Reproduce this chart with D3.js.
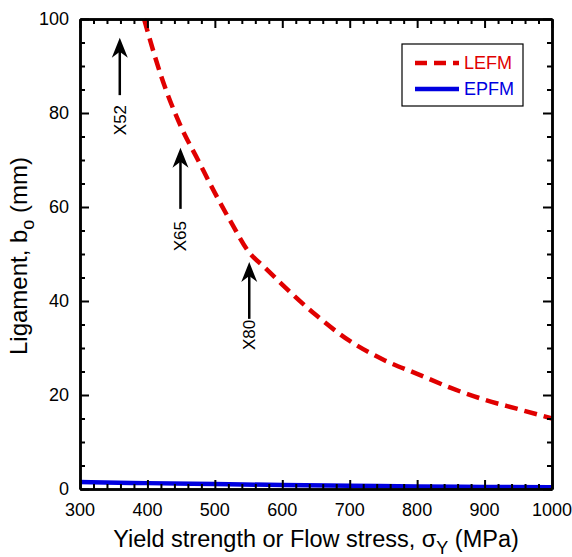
<!DOCTYPE html>
<meta charset="utf-8">
<script src="https://d3js.org/d3.v7.min.js"></script>
<style>
  body { margin: 0; background: #fff; }
  text { font-family: Arial, "Liberation Sans", sans-serif; }
</style>
<div id="my_dataviz"></div>
<script>

// data
var lefmX = [395, 420, 450, 475, 500, 525, 550, 575, 600, 650, 700, 750, 800, 850, 900, 950, 1000];
var lefmY = [100, 88, 77, 70, 63, 56.5, 50.5, 47, 43.5, 37, 31.5, 27.5, 24.5, 21.5, 19, 17, 15];
var epfmX = [300, 400, 500, 600, 700, 800, 900, 1000];
var epfmY = [1.5, 1.25, 1.05, 0.85, 0.7, 0.55, 0.45, 0.35];

var gradeNames = ["X52", "X65", "X80"];
var gradeX = [359, 449, 551];
var gradeTip = [96, 72.6, 48.3];
var gradeBase = [83.8, 59.6, 36.2];
var gradeLabelY = [78.5, 53.8, 32.8];

var xTicks = [300, 400, 500, 600, 700, 800, 900, 1000];
var yTicks = [0, 20, 40, 60, 80, 100];

var margin = {top: 19, right: 20, bottom: 68, left: 80},
  width = 552 - margin.left,
  height = 489 - margin.top;

var svg = d3.select("#my_dataviz")
.append("svg")
  .attr("width", 572)
  .attr("height", 557)
.append("g")
  .attr("transform", "translate(" + margin.left + "," + margin.top + ")");

var x = d3.scaleLinear().domain([300, 1000]).range([0, width]);
var y = d3.scaleLinear().domain([0, 100]).range([height, 0]);

svg.append("defs").append("clipPath").attr("id", "clip")
  .append("rect").attr("width", width).attr("height", height);

// curves
var line = d3.line()
  .x(function(d) { return x(d[0]); })
  .y(function(d) { return y(d[1]); })
  .curve(d3.curveMonotoneX);

svg.append("path")
  .datum(epfmX.map(function(v, i) { return [v, epfmY[i]]; }))
  .attr("clip-path", "url(#clip)")
  .attr("d", line)
  .attr("fill", "none")
  .attr("stroke", "#0000e0")
  .attr("stroke-width", 4.5);

svg.append("path")
  .datum(lefmX.map(function(v, i) { return [v, lefmY[i]]; }))
  .attr("d", line)
  .attr("fill", "none")
  .attr("stroke", "#e00000")
  .attr("stroke-width", 4.5)
  .attr("stroke-dasharray", "13,7");

// axes with inward ticks, mirrored on top/right
function tickAxis(axisFn, scale, major, minorStep, domain) {
  var minor = d3.range(domain[0], domain[1] + 0.001, minorStep)
    .filter(function(v) { return major.indexOf(v) < 0; });
  return [axisFn(scale).tickValues(major).tickSizeInner(-9).tickSizeOuter(0).tickFormat(""),
          axisFn(scale).tickValues(minor).tickSizeInner(-5).tickSizeOuter(0).tickFormat("")];
}

function drawAxis(axes, transform) {
  axes.forEach(function(a) {
    var g = svg.append("g").attr("transform", transform).call(a);
    g.selectAll("line").attr("stroke", "#000").attr("stroke-width", 2);
    g.select(".domain").attr("stroke", "#000").attr("stroke-width", 2.5);
  });
}

drawAxis(tickAxis(d3.axisBottom, x, xTicks, 20, [300, 1000]), "translate(0," + height + ")");
drawAxis(tickAxis(d3.axisTop, x, xTicks, 20, [300, 1000]), "translate(0,0)");
drawAxis(tickAxis(d3.axisLeft, y, yTicks, 5, [0, 100]), "translate(0,0)");
drawAxis(tickAxis(d3.axisRight, y, yTicks, 5, [0, 100]), "translate(" + width + ",0)");

// tick labels
svg.selectAll(".xl").data(xTicks).enter().append("text")
  .attr("x", function(d) { return x(d); })
  .attr("y", height + 27)
  .attr("text-anchor", "middle")
  .style("font-size", "18px")
  .text(function(d) { return d; });

svg.selectAll(".yl").data(yTicks).enter().append("text")
  .attr("x", -11)
  .attr("y", function(d) { return y(d); })
  .attr("dy", "0.35em")
  .attr("text-anchor", "end")
  .style("font-size", "18px")
  .text(function(d) { return d; });

// axis titles
var xt = svg.append("text")
  .attr("x", width / 2)
  .attr("y", height + 58)
  .attr("text-anchor", "middle")
  .style("font-size", "23.5px");
xt.append("tspan").text("Yield strength or Flow stress, ");
xt.append("tspan").text("σ");
xt.append("tspan").attr("dy", 7).style("font-size", "18px").text("Y");
xt.append("tspan").attr("dy", -7).text(" (MPa)");

var yt = svg.append("text")
  .attr("transform", "translate(-53," + (height / 2 + 2) + ") rotate(-90)")
  .attr("text-anchor", "middle")
  .style("font-size", "24px");
yt.append("tspan").text("Ligament, b");
yt.append("tspan").attr("dy", 7).style("font-size", "18px").text("o");
yt.append("tspan").attr("dy", -7).text(" (mm)");

// grade arrows
gradeNames.forEach(function(name, i) {
  var ax = x(gradeX[i]), tip = y(gradeTip[i]);
  svg.append("line")
    .attr("x1", ax).attr("x2", ax)
    .attr("y1", y(gradeBase[i])).attr("y2", tip + 12)
    .attr("stroke", "#000").attr("stroke-width", 2.5);
  svg.append("path")
    .attr("d", "M" + ax + "," + tip + " L" + (ax + 8) + "," + (tip + 20) +
               " L" + ax + "," + (tip + 14) + " L" + (ax - 8) + "," + (tip + 20) + " Z")
    .attr("fill", "#000");
  svg.append("text")
    .attr("transform", "translate(" + (ax + 6) + "," + y(gradeLabelY[i]) + ") rotate(-90)")
    .attr("text-anchor", "middle")
    .style("font-size", "17px")
    .text(name);
});

// legend
var lg = svg.append("g").attr("transform", "translate(" + (402 - margin.left) + "," + (44 - margin.top) + ")");
lg.append("rect").attr("width", 121).attr("height", 62)
  .attr("fill", "#fff").attr("stroke", "#000").attr("stroke-width", 1.2);
lg.append("line").attr("x1", 13).attr("x2", 57).attr("y1", 19).attr("y2", 19)
  .attr("stroke", "#e00000").attr("stroke-width", 4.5).attr("stroke-dasharray", "12,7");
lg.append("line").attr("x1", 13).attr("x2", 57).attr("y1", 45).attr("y2", 45)
  .attr("stroke", "#0000e0").attr("stroke-width", 4.5);
lg.append("text").attr("x", 62).attr("y", 19).attr("dy", "0.35em")
  .style("font-size", "18px").attr("fill", "#e00000").text("LEFM");
lg.append("text").attr("x", 62).attr("y", 45).attr("dy", "0.35em")
  .style("font-size", "18px").attr("fill", "#0000e0").text("EPFM");

</script>
